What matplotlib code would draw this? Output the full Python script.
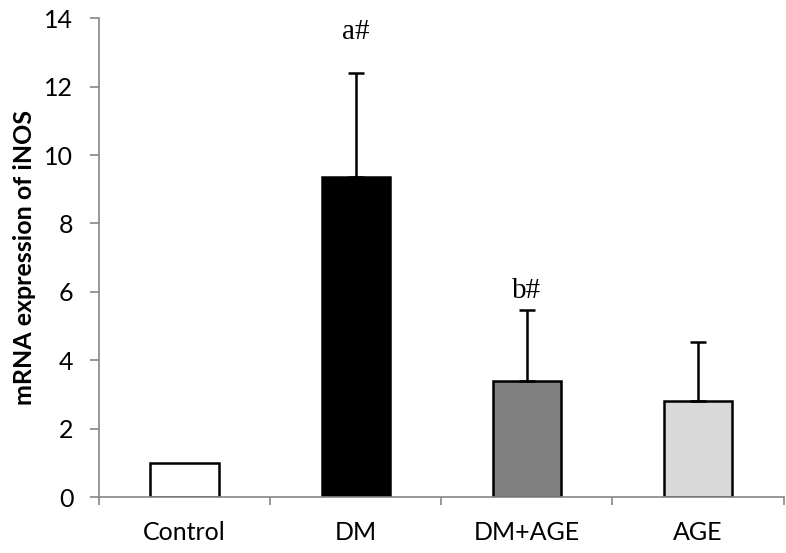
import matplotlib
matplotlib.use("Agg")
import matplotlib.pyplot as plt
import numpy as np

groups = ["Control", "DM", "DM+AGE", "AGE"]
means = [1.0, 9.35, 3.4, 2.8]
errors = [0.0, 3.05, 2.08, 1.73]
colors = ["white", "black", "#808080", "#d9d9d9"]
marks = ["", "a#", "b#", ""]
mark_y = [0, 13.4, 5.83, 0]

plt.rcParams["font.family"] = ["Lato", "DejaVu Sans"]

fig = plt.figure(figsize=(7.86, 5.53), dpi=100)
ax = fig.add_axes([0.126, 0.101, 0.871, 0.866])

x = np.arange(len(groups))
ax.bar(x, means, width=0.4, color=colors, edgecolor="black", linewidth=1.8, zorder=2)
for xi, m, e in zip(x, means, errors):
    if e > 0:
        ax.errorbar(xi, m, yerr=[[0], [e]], fmt="none", ecolor="black",
                    elinewidth=1.8, capsize=6, capthick=1.8, zorder=3)
for xi, t, yy in zip(x, marks, mark_y):
    if t:
        ax.text(xi, yy, t, ha="center", va="baseline", fontsize=21,
                family="Liberation Serif")

ax.set_xlim(-0.5, len(groups) - 0.5)
ax.set_ylim(0, 14)
ax.set_yticks(np.arange(0, 15, 2))
ax.set_xticks(x)
ax.set_xticklabels(groups, fontsize=18)
ax.set_xticks(np.arange(-0.5, len(groups), 1), minor=True)
ax.tick_params(axis="x", which="major", length=0, pad=17)
ax.tick_params(axis="x", which="minor", length=6, color="#868686", width=1.2)
ax.tick_params(axis="y", labelsize=18, length=6.5, color="#868686", width=1.2, pad=12)
ax.set_ylabel("mRNA expression of iNOS", fontsize=18, fontweight="bold", labelpad=6)

for s in ("top", "right"):
    ax.spines[s].set_visible(False)
for s in ("left", "bottom"):
    ax.spines[s].set_color("#868686")
    ax.spines[s].set_linewidth(1.2)

fig.savefig("out.png", dpi=100)
